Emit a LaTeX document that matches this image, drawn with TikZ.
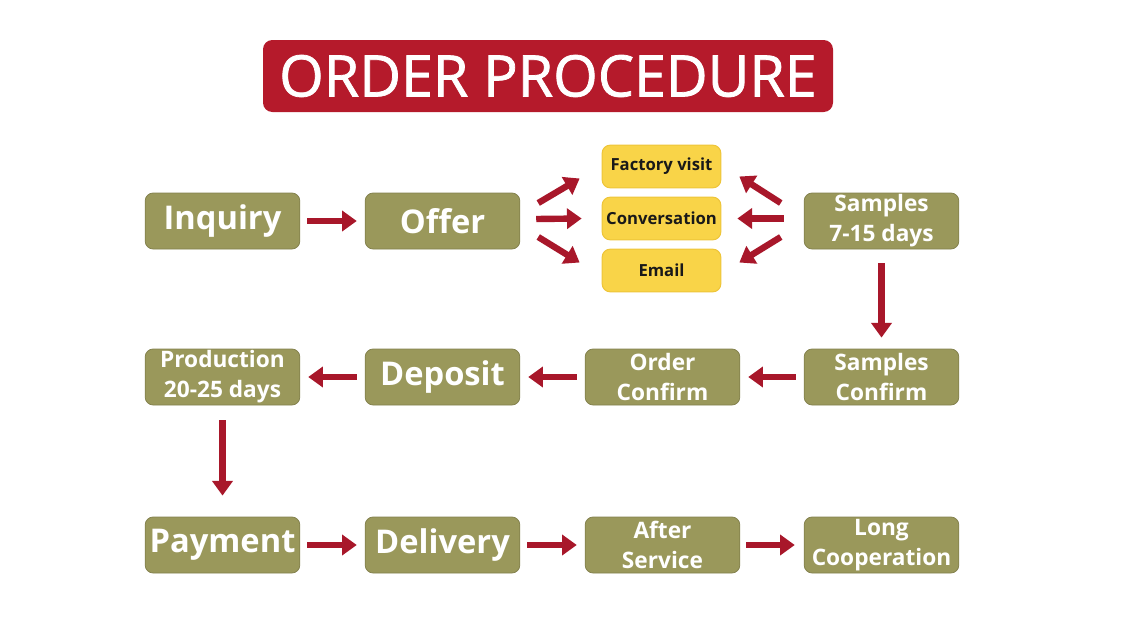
\documentclass[tikz,border=0pt]{standalone}
\usepackage{fontspec}
\setmainfont{Open Sans}
\newfontfamily\titlefont{Open Sans}[FakeBold=1.3]
\usetikzlibrary{arrows.meta}
\definecolor{olive}{HTML}{9A985B}
\definecolor{titlered}{HTML}{B51A2B}
\definecolor{arrred}{HTML}{A8172A}
\definecolor{yel}{HTML}{F9D448}
\definecolor{yelb}{HTML}{EEC53A}
\begin{document}
\begin{tikzpicture}[x=0.75pt,y=-0.75pt,
  box/.style={rectangle,rounded corners=6pt,fill=olive,draw=olive!85!black,line width=0.6pt,
    minimum width=116pt,minimum height=42pt,inner sep=0pt,text=white,align=center},
  big/.style={box,font=\fontsize{24.5}{26}\selectfont\bfseries},
  two/.style={box,font=\fontsize{17}{22.5}\selectfont\bfseries},
  ybox/.style={rectangle,rounded corners=6pt,fill=yel,draw=yelb,line width=0.8pt,
    minimum width=89pt,minimum height=32pt,inner sep=0pt,text=black!90,
    font=\fontsize{12.5}{14}\selectfont\bfseries},
  arr/.style={draw=arrred,line width=4.8pt,-{Triangle[width=15pt,length=11pt]}}]
\useasboundingbox[fill=white] (0,0) rectangle (1140,639);
% title
\node[rectangle,rounded corners=7pt,fill=titlered,minimum width=427.5pt,minimum height=54pt,
  inner sep=0pt,text=white,font=\fontsize{43}{46}\titlefont] (title) at (548,76) {ORDER PROCEDURE};
% row 1
\node[big] (inq) at (222.5,221) {Inquiry};
\node[big] (off) at (442.5,221) {Offer};
\node[ybox] (fv) at (661.5,166.5) {Factory visit};
\node[ybox] (conv) at (661.5,218.5) {Conversation};
\node[ybox] (mail) at (661.5,270.5) {Email};
\node[two] (samp) at (881.5,221) {Samples\\7-15 days};
% row 2
\node[two] (prod) at (222.5,377) {Production\\20-25 days};
\node[big] (dep) at (442.5,377) {Deposit};
\node[two] (oc) at (662.5,377) {Order\\Confirm};
\node[two] (sc) at (881.5,377) {Samples\\Confirm};
% row 3
\node[big] (pay) at (222.5,545) {Payment};
\node[big] (del) at (442.5,545) {Delivery};
\node[two] (as) at (662.5,545) {After\\Service};
\node[two] (lc) at (881.5,545) {Long\\Cooperation};
% arrows row 1
\draw[arr] ([shift={(7,0)}]inq.east) -- ([shift={(-8,0)}]off.west);
\draw[arr] ([shift={(18,-18)}]off.east) -- ([shift={(-22,12)}]fv.west);
\draw[arr] ([shift={(16,-2)}]off.east) -- ([shift={(-20,0)}]conv.west);
\draw[arr] ([shift={(18,16)}]off.east) -- ([shift={(-22,-8)}]mail.west);
\draw[arr] ([shift={(-23,-18)}]samp.west) -- ([shift={(18,10)}]fv.east);
\draw[arr] ([shift={(-20,-2.5)}]samp.west) -- ([shift={(16,0)}]conv.east);
\draw[arr] ([shift={(-23,16)}]samp.west) -- ([shift={(18,-8)}]mail.east);
\draw[arr] ([shift={(0,14)}]samp.south) -- ([shift={(0,-11)}]sc.north);
% arrows row 2
\draw[arr] ([shift={(-8,0)}]sc.west) -- ([shift={(8,0)}]oc.east);
\draw[arr] ([shift={(-8,0)}]oc.west) -- ([shift={(8,0)}]dep.east);
\draw[arr] ([shift={(-8,0)}]dep.west) -- ([shift={(8,0)}]prod.east);
\draw[arr] ([shift={(0,15)}]prod.south) -- ([shift={(0,-21)}]pay.north);
% arrows row 3
\draw[arr] ([shift={(7,0)}]pay.east) -- ([shift={(-8,0)}]del.west);
\draw[arr] ([shift={(7,0)}]del.east) -- ([shift={(-8,0)}]as.west);
\draw[arr] ([shift={(6,0)}]as.east) -- ([shift={(-9,0)}]lc.west);
\end{tikzpicture}
\end{document}
